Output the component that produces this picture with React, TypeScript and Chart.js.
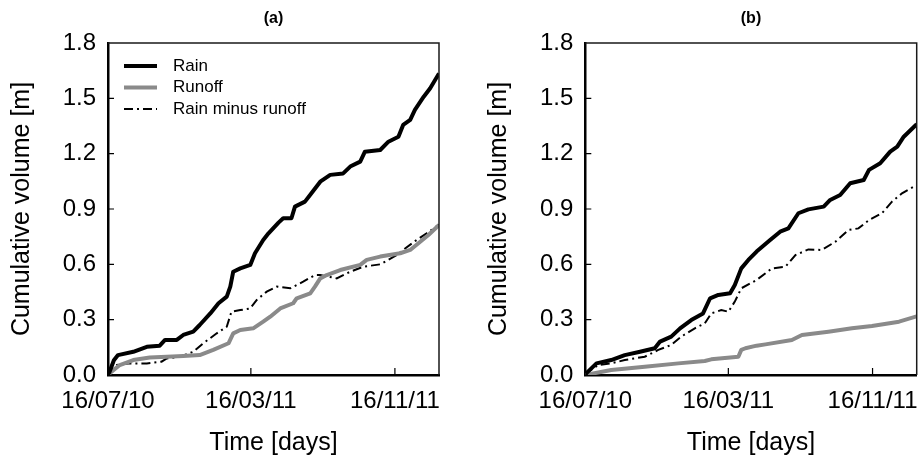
import React, { useEffect, useRef } from "react";
import { Chart, registerables } from "chart.js";

Chart.register(...registerables);

// ---- Data (days since 16/07/10, cumulative volume in m) ----
const aRainDays = [0, 3, 10, 17, 43, 66, 88, 97, 117, 128, 145, 156, 174, 188, 202, 208, 213, 225, 242, 250, 264, 273, 290, 298, 312, 318, 335, 346, 361, 378, 400, 412, 429, 437, 463, 477, 494, 502, 514, 522, 537, 548, 563];
const aRainVals = [0, 0.02, 0.08, 0.108, 0.126, 0.153, 0.159, 0.19, 0.19, 0.217, 0.235, 0.271, 0.334, 0.389, 0.425, 0.479, 0.56, 0.578, 0.597, 0.66, 0.732, 0.768, 0.826, 0.85, 0.85, 0.913, 0.94, 0.985, 1.048, 1.085, 1.093, 1.13, 1.157, 1.211, 1.22, 1.265, 1.292, 1.356, 1.383, 1.437, 1.509, 1.555, 1.635];

const aRunoffDays = [0, 3, 20, 43, 71, 100, 128, 156, 179, 205, 213, 225, 247, 264, 276, 293, 315, 321, 344, 352, 361, 372, 395, 429, 440, 463, 497, 514, 528, 545, 563];
const aRunoffVals = [0, 0.01, 0.054, 0.081, 0.095, 0.099, 0.103, 0.108, 0.136, 0.172, 0.226, 0.244, 0.253, 0.289, 0.316, 0.361, 0.389, 0.416, 0.443, 0.479, 0.524, 0.542, 0.569, 0.597, 0.624, 0.642, 0.66, 0.678, 0.714, 0.759, 0.813];

const aDiffDays = [0, 3, 15, 37, 66, 91, 100, 122, 145, 162, 185, 202, 210, 225, 242, 253, 270, 287, 310, 332, 352, 361, 389, 412, 434, 463, 491, 502, 525, 542, 563];
const aDiffVals = [0, 0.01, 0.054, 0.063, 0.063, 0.072, 0.09, 0.099, 0.126, 0.172, 0.226, 0.262, 0.343, 0.352, 0.361, 0.407, 0.452, 0.479, 0.47, 0.506, 0.542, 0.542, 0.524, 0.56, 0.587, 0.6, 0.65, 0.678, 0.732, 0.768, 0.815];

const bRainDays = [0, 2, 19, 44, 67, 93, 118, 127, 146, 161, 180, 200, 212, 226, 246, 254, 265, 277, 291, 314, 331, 345, 362, 379, 405, 416, 433, 450, 473, 482, 501, 518, 530, 541, 563];
const bRainVals = [0, 0.01, 0.063, 0.081, 0.108, 0.126, 0.145, 0.181, 0.208, 0.253, 0.298, 0.334, 0.416, 0.434, 0.443, 0.488, 0.578, 0.624, 0.669, 0.732, 0.777, 0.795, 0.877, 0.898, 0.913, 0.949, 0.976, 1.04, 1.057, 1.112, 1.148, 1.211, 1.238, 1.292, 1.36];

const bRunoffDays = [0, 44, 101, 158, 203, 214, 260, 265, 272, 291, 306, 351, 368, 413, 453, 487, 533, 563];
const bRunoffVals = [0, 0.027, 0.045, 0.063, 0.076, 0.085, 0.099, 0.136, 0.145, 0.159, 0.166, 0.19, 0.217, 0.235, 0.253, 0.266, 0.289, 0.318];

const bDiffDays = [0, 2, 22, 44, 67, 101, 124, 146, 163, 186, 203, 214, 231, 243, 254, 265, 291, 317, 340, 357, 379, 402, 425, 447, 464, 482, 504, 521, 538, 563];
const bDiffVals = [0, 0.01, 0.054, 0.063, 0.081, 0.099, 0.136, 0.163, 0.208, 0.253, 0.28, 0.334, 0.352, 0.343, 0.398, 0.47, 0.515, 0.578, 0.587, 0.65, 0.681, 0.678, 0.723, 0.786, 0.795, 0.84, 0.877, 0.94, 0.985, 1.03];

const xTickDays = [0, 243, 488];
const xTickLabels = ["16/07/10", "16/03/11", "16/11/11"];
const xMaxDays = 563;
const yMax = 1.8;
const yStep = 0.3;
const seriesLabels = ["Rain", "Runoff", "Rain minus runoff"];

const FONT = "'Liberation Sans', Arial, Helvetica, sans-serif";

const zip = (xs: number[], ys: number[]) => xs.map((x, i) => ({ x, y: ys[i] }));

const framePlugin = {
  id: "frameTicks",
  afterDraw(chart: any) {
    const { ctx, chartArea: ca, scales } = chart;
    ctx.save();
    ctx.strokeStyle = "#1a1a1a";
    ctx.lineWidth = 1.5;
    ctx.beginPath();
    ctx.moveTo(ca.left, ca.top);
    ctx.lineTo(ca.right, ca.top);
    ctx.lineTo(ca.right, ca.bottom);
    ctx.stroke();
    ctx.strokeStyle = "#000";
    ctx.lineWidth = 1.2;
    ctx.beginPath();
    scales.x.ticks.forEach((t: any) => {
      if (t.value > scales.x.min && t.value < scales.x.max) {
        const px = scales.x.getPixelForValue(t.value);
        ctx.moveTo(px, ca.bottom);
        ctx.lineTo(px, ca.bottom - 7);
      }
    });
    scales.y.ticks.forEach((t: any) => {
      if (t.value > scales.y.min + 1e-6 && t.value < scales.y.max - 1e-6) {
        const py = scales.y.getPixelForValue(t.value);
        ctx.moveTo(ca.left, py);
        ctx.lineTo(ca.left + 6, py);
      }
    });
    ctx.stroke();
    ctx.restore();
  },
};

const legendPlugin = {
  id: "innerLegend",
  afterDatasetsDraw(chart: any, _args: any, opts: any) {
    if (!opts || !opts.show) return;
    const { ctx, chartArea: ca } = chart;
    ctx.save();
    ctx.font = `17px ${FONT}`;
    ctx.textBaseline = "middle";
    ctx.fillStyle = "#000";
    chart.data.datasets.forEach((ds: any, i: number) => {
      const y = ca.top + 23 + i * 21.5;
      ctx.beginPath();
      ctx.strokeStyle = ds.borderColor;
      ctx.lineWidth = ds.borderWidth;
      ctx.setLineDash(ds.borderDash || []);
      ctx.moveTo(ca.left + 16, y);
      ctx.lineTo(ca.left + 49, y);
      ctx.stroke();
      ctx.setLineDash([]);
      ctx.fillText(ds.label, ca.left + 65, y);
    });
    ctx.restore();
  },
};

function makeConfig(title: string, rain: any[], runoff: any[], diff: any[], showLegend: boolean, padLeft: number, padRight: number, yTitlePad: number): any {
  return {
    type: "line",
    data: {
      datasets: [
        { label: seriesLabels[0], data: rain, borderColor: "#000", borderWidth: 4, pointRadius: 0, tension: 0, fill: false, borderJoinStyle: "round" },
        { label: seriesLabels[1], data: runoff, borderColor: "#8a8a8a", borderWidth: 4, pointRadius: 0, tension: 0, fill: false, borderJoinStyle: "round" },
        { label: seriesLabels[2], data: diff, borderColor: "#000", borderWidth: 2, borderDash: [9, 4, 2, 4], pointRadius: 0, tension: 0, fill: false },
      ],
    },
    options: {
      responsive: false,
      animation: false,
      devicePixelRatio: 1,
      layout: { padding: { left: padLeft, right: padRight, top: 0, bottom: 0 } },
      plugins: {
        legend: { display: false },
        tooltip: { enabled: false },
        title: {
          display: true,
          text: title,
          fullSize: false,
          color: "#000",
          font: { family: FONT, size: 16, weight: "bold" },
          padding: { top: 9.4, bottom: 14.4 },
        },
        innerLegend: { show: showLegend },
      },
      scales: {
        x: {
          type: "linear",
          min: 0,
          max: xMaxDays,
          grid: { display: false, drawTicks: false },
          border: { display: true, color: "#000", width: 2.5 },
          afterBuildTicks: (s: any) => {
            s.ticks = xTickDays.map((v) => ({ value: v }));
          },
          afterFit: (s: any) => {
            s.height = 83;
            s.paddingLeft = 0;
            s.paddingRight = 0;
          },
          ticks: {
            color: "#000",
            padding: 12,
            maxRotation: 0,
            autoSkip: false,
            font: { family: FONT, size: 24 },
            callback: (v: number) => {
              const i = xTickDays.indexOf(v);
              return i >= 0 ? xTickLabels[i] : "";
            },
          },
          title: {
            display: true,
            text: "Time [days]",
            color: "#000",
            font: { family: FONT, size: 25 },
            padding: { top: 0, bottom: 0 },
          },
        },
        y: {
          min: 0,
          max: yMax,
          grid: { display: false, drawTicks: false },
          border: { display: true, color: "#000", width: 2.5 },
          afterFit: (s: any) => {
            s.width = 108;
            s.paddingTop = 0;
            s.paddingBottom = 0;
          },
          ticks: {
            stepSize: yStep,
            color: "#000",
            padding: 12,
            font: { family: FONT, size: 24 },
            callback: (v: number) => Number(v).toFixed(1),
          },
          title: {
            display: true,
            text: "Cumulative volume [m]",
            color: "#000",
            font: { family: FONT, size: 25 },
            padding: { top: yTitlePad, bottom: 0 },
          },
        },
      },
    },
    plugins: [framePlugin, legendPlugin],
  };
}

function Panel({ config, left, width }: { config: any; left: number; width: number }) {
  const ref = useRef<HTMLCanvasElement | null>(null);
  useEffect(() => {
    if (!ref.current) return;
    const ch = new Chart(ref.current, config);
    return () => ch.destroy();
  }, []);
  return (
    <canvas
      ref={ref}
      width={width}
      height={458}
      style={{ position: "absolute", left, top: 0, width, height: 458 }}
    />
  );
}

export default function App() {
  const cfgA = makeConfig("(a)", zip(aRainDays, aRainVals), zip(aRunoffDays, aRunoffVals), zip(aDiffDays, aDiffVals), true, 0, 21, 7);
  const cfgB = makeConfig("(b)", zip(bRainDays, bRainVals), zip(bRunoffDays, bRunoffVals), zip(bDiffDays, bDiffVals), false, 17.3, 2.3, 7);
  return (
    <div style={{ position: "fixed", left: 0, top: 0, width: 919, height: 458, overflow: "hidden", background: "#fff" }}>
      <Panel config={cfgA} left={0} width={460} />
      <Panel config={cfgB} left={460} width={459} />
    </div>
  );
}
